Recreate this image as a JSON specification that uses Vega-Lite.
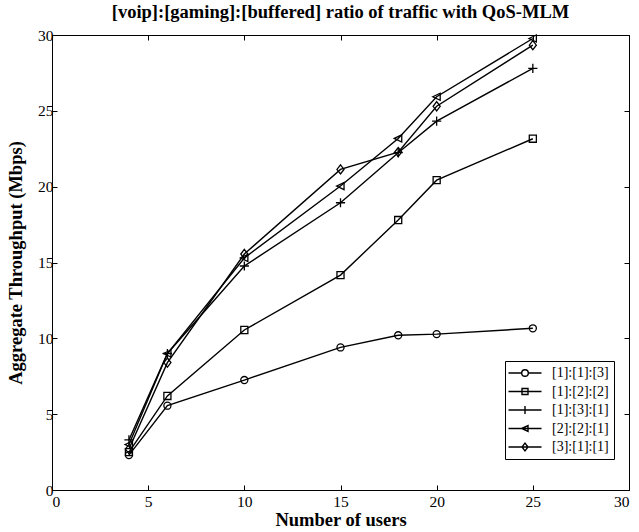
{
  "$schema": "https://vega.github.io/schema/vega-lite/v6.json",
  "width": 577,
  "height": 455,
  "autosize": {"type": "none"},
  "padding": {"left": 52, "top": 35, "right": 10, "bottom": 42},
  "background": "white",
  "title": {
    "text": "[voip]:[gaming]:[buffered] ratio of traffic with QoS-MLM",
    "font": "Liberation Serif",
    "fontSize": 18.5,
    "fontWeight": "bold",
    "color": "black",
    "offset": 7
  },
  "config": {
    "view": {"stroke": "black", "strokeWidth": 1},
    "axis": {
      "grid": false,
      "domainColor": "black",
      "tickColor": "black",
      "labelColor": "black",
      "titleColor": "black",
      "labelFont": "Liberation Serif",
      "titleFont": "Liberation Serif",
      "labelFontSize": 15.5,
      "titleFontSize": 18.5,
      "titleFontWeight": "bold",
      "tickSize": -5
    },
    "legend": {
      "orient": "none",
      "legendX": 453,
      "legendY": 326,
      "strokeColor": "black",
      "fillColor": "white",
      "padding": 5,
      "rowPadding": 4.5,
      "labelFont": "Liberation Serif",
      "labelFontSize": 14,
      "labelColor": "black",
      "labelOffset": 20,
      "symbolOffset": 8,
      "symbolStrokeColor": "black",
      "symbolStrokeWidth": 1.4,
      "symbolSize": 36,
      "cornerRadius": 0
    }
  },
  "data": {
    "values": [
      {"series": "[1]:[1]:[3]", "users": 4, "throughput": 2.3},
      {"series": "[1]:[1]:[3]", "users": 6, "throughput": 5.56},
      {"series": "[1]:[1]:[3]", "users": 10, "throughput": 7.25},
      {"series": "[1]:[1]:[3]", "users": 15, "throughput": 9.4},
      {"series": "[1]:[1]:[3]", "users": 18, "throughput": 10.2},
      {"series": "[1]:[1]:[3]", "users": 20, "throughput": 10.28},
      {"series": "[1]:[1]:[3]", "users": 25, "throughput": 10.66},
      {"series": "[1]:[2]:[2]", "users": 4, "throughput": 2.5},
      {"series": "[1]:[2]:[2]", "users": 6, "throughput": 6.2},
      {"series": "[1]:[2]:[2]", "users": 10, "throughput": 10.55},
      {"series": "[1]:[2]:[2]", "users": 15, "throughput": 14.17},
      {"series": "[1]:[2]:[2]", "users": 18, "throughput": 17.8},
      {"series": "[1]:[2]:[2]", "users": 20, "throughput": 20.43},
      {"series": "[1]:[2]:[2]", "users": 25, "throughput": 23.16},
      {"series": "[1]:[3]:[1]", "users": 4, "throughput": 3.3},
      {"series": "[1]:[3]:[1]", "users": 6, "throughput": 9.0},
      {"series": "[1]:[3]:[1]", "users": 10, "throughput": 14.77},
      {"series": "[1]:[3]:[1]", "users": 15, "throughput": 18.94},
      {"series": "[1]:[3]:[1]", "users": 18, "throughput": 22.24},
      {"series": "[1]:[3]:[1]", "users": 20, "throughput": 24.32},
      {"series": "[1]:[3]:[1]", "users": 25, "throughput": 27.8},
      {"series": "[2]:[2]:[1]", "users": 4, "throughput": 3.0},
      {"series": "[2]:[2]:[1]", "users": 6, "throughput": 9.0},
      {"series": "[2]:[2]:[1]", "users": 10, "throughput": 15.3},
      {"series": "[2]:[2]:[1]", "users": 15, "throughput": 20.04},
      {"series": "[2]:[2]:[1]", "users": 18, "throughput": 23.18},
      {"series": "[2]:[2]:[1]", "users": 20, "throughput": 25.93},
      {"series": "[2]:[2]:[1]", "users": 25, "throughput": 29.77},
      {"series": "[3]:[1]:[1]", "users": 4, "throughput": 2.7},
      {"series": "[3]:[1]:[1]", "users": 6, "throughput": 8.4},
      {"series": "[3]:[1]:[1]", "users": 10, "throughput": 15.56},
      {"series": "[3]:[1]:[1]", "users": 15, "throughput": 21.14},
      {"series": "[3]:[1]:[1]", "users": 18, "throughput": 22.28},
      {"series": "[3]:[1]:[1]", "users": 20, "throughput": 25.3},
      {"series": "[3]:[1]:[1]", "users": 25, "throughput": 29.33}
    ]
  },
  "layer": [
    {
      "encoding": {
        "x": {
          "field": "users",
          "type": "quantitative",
          "scale": {"domain": [0, 30], "nice": false, "zero": false},
          "axis": {"orient": "bottom", "values": [0, 5, 10, 15, 20, 25, 30], "title": "Number of users", "labelPadding": 9, "titlePadding": 1}
        },
        "y": {
          "field": "throughput",
          "type": "quantitative",
          "scale": {"domain": [0, 30], "nice": false, "zero": false},
          "axis": {"orient": "left", "values": [0, 5, 10, 15, 20, 25, 30], "title": "Aggregate Throughput (Mbps)", "labelPadding": 4, "titlePadding": 12}
        }
      },
      "layer": [
        {
          "mark": {"type": "line", "color": "black", "strokeWidth": 1.4},
          "encoding": {"detail": {"field": "series", "type": "nominal"}}
        },
        {
          "mark": {"type": "point", "filled": false, "stroke": "black", "strokeWidth": 1.3, "size": 50, "opacity": 1},
          "encoding": {
            "shape": {
              "field": "series",
              "type": "nominal",
              "scale": {
                "domain": ["[1]:[1]:[3]", "[1]:[2]:[2]", "[1]:[3]:[1]", "[2]:[2]:[1]", "[3]:[1]:[1]"],
                "range": ["circle", "square", "M-1.3,0H1.3M0,-1.3V1.3", "M-1.1,0L1,-1L1,1Z", "M0,-1.3L1,0L0,1.3L-1,0Z"]
              },
              "legend": null
            }
          }
        },
        {
          "transform": [{"filter": "datum.users < 0"}],
          "mark": {"type": "point", "filled": false, "stroke": "black", "strokeWidth": 1.4, "size": 36, "opacity": 1},
          "encoding": {
            "shape": {
              "field": "series",
              "type": "nominal",
              "scale": {
                "domain": ["[1]:[1]:[3]", "[1]:[2]:[2]", "[1]:[3]:[1]", "[2]:[2]:[1]", "[3]:[1]:[1]"],
                "range": [
                  "M-5.5,0H-1.1M1.1,0H5.5M-1.1,0A1.1,1.1 0 1,1 1.1,0A1.1,1.1 0 1,1 -1.1,0Z",
                  "M-5.5,0H5.5M-1,-1H1V1H-1Z",
                  "M-5.5,0H5.5M0,-1.3V1.3",
                  "M-5.5,0H5.5M-1.1,0L1,-1L1,1Z",
                  "M-5.5,0H5.5M0,-1.3L1,0L0,1.3L-1,0Z"
                ]
              },
              "legend": {
                "title": null,
                "labelExpr": "datum.label == '[2]:[2]:[1]' ? '\u2007\u2007' + datum.label + '\u2007\u2007' : datum.label"
              }
            }
          }
        }
      ],
      "resolve": {"scale": {"shape": "independent"}}
    },
    {
      "mark": {"type": "point", "opacity": 0},
      "encoding": {
        "x": {
          "field": "users",
          "type": "quantitative",
          "scale": {"domain": [0, 30], "nice": false, "zero": false},
          "axis": {"orient": "top", "values": [0, 5, 10, 15, 20, 25, 30], "labels": false, "title": null}
        },
        "y": {
          "field": "throughput",
          "type": "quantitative",
          "scale": {"domain": [0, 30], "nice": false, "zero": false},
          "axis": {"orient": "right", "values": [0, 5, 10, 15, 20, 25, 30], "labels": false, "title": null}
        }
      }
    }
  ],
  "resolve": {"axis": {"x": "independent", "y": "independent"}}
}
